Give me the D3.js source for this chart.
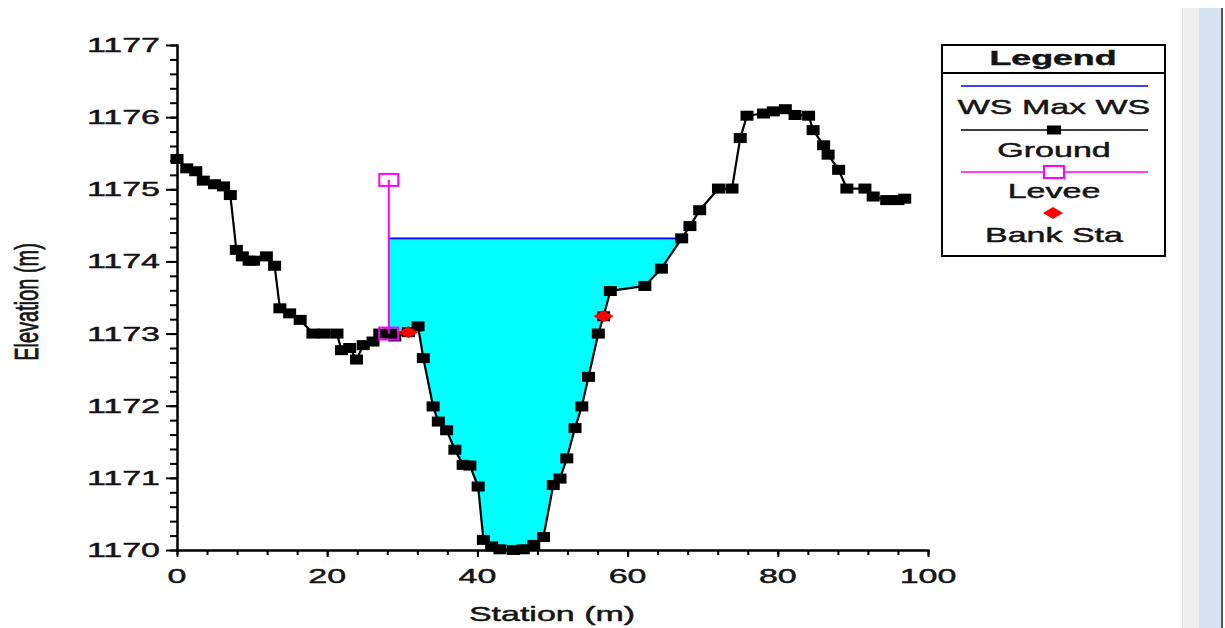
<!DOCTYPE html>
<html>
<head>
<meta charset="utf-8">
<script src="https://cdn.jsdelivr.net/npm/d3@7/dist/d3.min.js"></script>
<style>
  html, body { margin: 0; padding: 0; background: #fff; }
  svg { display: block; }
  text { font-family: "Liberation Sans", Arial, sans-serif; fill: #141414; stroke: #141414; stroke-width: 0.45px; }
</style>
</head>
<body>
<svg id="chart" width="1225" height="628"></svg>
<script>
// ---------------- data ----------------
const groundStation = [0.0, 1.3, 2.5, 3.5, 5.0, 6.2, 7.1, 7.9, 8.7, 9.6, 10.2, 11.9, 13.0, 13.7, 15.0, 16.4, 18.1, 19.6, 21.3, 21.9, 23.0, 23.9, 24.8, 26.1, 27.0, 28.4, 29.0, 30.8, 32.1, 32.8, 34.1, 34.8, 35.9, 37.0, 38.1, 39.0, 40.1, 40.8, 41.9, 43.0, 44.8, 46.1, 47.5, 48.8, 50.1, 51.0, 51.9, 53.0, 53.9, 54.8, 56.1, 56.8, 57.7, 62.3, 64.5, 67.2, 68.3, 69.6, 72.1, 73.9, 75.0, 75.9, 78.1, 79.4, 81.0, 82.3, 84.1, 84.7, 86.1, 86.7, 88.1, 89.2, 91.6, 92.7, 94.5, 96.0, 96.9];
const groundElev = [1175.42, 1175.29, 1175.25, 1175.12, 1175.07, 1175.04, 1174.92, 1174.16, 1174.07, 1174.01, 1174.01, 1174.07, 1173.94, 1173.35, 1173.28, 1173.19, 1173.00, 1173.00, 1173.00, 1172.77, 1172.80, 1172.64, 1172.84, 1172.89, 1173.00, 1173.00, 1172.96, 1173.02, 1173.10, 1172.66, 1171.99, 1171.78, 1171.66, 1171.39, 1171.18, 1171.17, 1170.88, 1170.14, 1170.05, 1170.01, 1170.00, 1170.01, 1170.07, 1170.18, 1170.90, 1170.99, 1171.27, 1171.69, 1171.99, 1172.40, 1173.00, 1173.24, 1173.59, 1173.66, 1173.90, 1174.32, 1174.49, 1174.71, 1175.01, 1175.01, 1175.71, 1176.02, 1176.05, 1176.08, 1176.11, 1176.03, 1176.02, 1175.82, 1175.61, 1175.48, 1175.27, 1175.01, 1175.01, 1174.90, 1174.85, 1174.85, 1174.87];
const wsStation = [28.2, 67.1];
const wsElev = [1174.32, 1174.32];
const leveeStation = [28.2, 28.2];
const leveeElev = [1175.13, 1173.0];
const bankStation = [30.8, 56.8];
const bankElev = [1173.02, 1173.24];
const xTicks = [0, 20, 40, 60, 80, 100];
const yTicks = [1170, 1171, 1172, 1173, 1174, 1175, 1176, 1177];
const legendLabels = ["WS Max WS", "Ground", "Levee", "Bank Sta"];
const xTitle = "Station (m)";
const yTitle = "Elevation (m)";
const legendTitle = "Legend";

// ---------------- layout ----------------
const SX = 1.7;   // horizontal stretch of the text in the reference
const svg = d3.select("#chart");
const x = d3.scaleLinear().domain([0, 100]).range([177, 928]);
const y = d3.scaleLinear().domain([1170, 1177]).range([550, 45]);

// right side window strip
svg.append("rect").attr("x", 1182).attr("y", 8).attr("width", 17).attr("height", 620).attr("fill", "#efefef");
svg.append("line").attr("x1", 1182.5).attr("x2", 1182.5).attr("y1", 8).attr("y2", 628).attr("stroke", "#e2e2e2");
svg.append("rect").attr("x", 1199).attr("y", 8).attr("width", 22).attr("height", 620).attr("fill", "#d6e3f0");
svg.append("rect").attr("x", 1221).attr("y", 8).attr("width", 2).attr("height", 620).attr("fill", "#555");

function stretchedText(g, tx, ty, str, size, anchor, weight) {
  return g.append("text")
    .attr("transform", `translate(${tx},${ty}) scale(${SX},1)`)
    .attr("text-anchor", anchor || "middle")
    .attr("font-size", size)
    .attr("font-weight", weight || "normal")
    .text(str);
}

const pts = groundStation.map((s, i) => ({ s, e: groundElev[i] }));

// water fill: between WS and ground, clipped from levee to the WS end
svg.append("clipPath").attr("id", "wsclip")
  .append("rect")
  .attr("x", x(wsStation[0])).attr("y", 0)
  .attr("width", x(wsStation[1]) - x(wsStation[0])).attr("height", 628);
const area = d3.area()
  .x(d => x(d.s))
  .y0(y(wsElev[0]))
  .y1(d => y(Math.min(d.e, wsElev[0])));
svg.append("path").datum(pts)
  .attr("clip-path", "url(#wsclip)")
  .attr("d", area)
  .attr("fill", "#00ffff");

// WS line
const wsPts = wsStation.map((s, i) => ({ s, e: wsElev[i] }));
const line = d3.line().x(d => x(d.s)).y(d => y(d.e));
svg.append("path").datum(wsPts).attr("d", line)
  .attr("fill", "none").attr("stroke", "#0000ff").attr("stroke-width", 1.6);

// ground line and markers
svg.append("path").datum(pts).attr("d", line)
  .attr("fill", "none").attr("stroke", "#000").attr("stroke-width", 2.2);
svg.append("g").selectAll("rect").data(pts).join("rect")
  .attr("x", d => x(d.s) - 6.5).attr("y", d => y(d.e) - 5)
  .attr("width", 13).attr("height", 10).attr("fill", "#000");

// levee
const levPts = leveeStation.map((s, i) => ({ s, e: leveeElev[i] }));
svg.append("path").datum(levPts).attr("d", line)
  .attr("fill", "none").attr("stroke", "#ff00ff").attr("stroke-width", 2);
svg.append("g").selectAll("rect").data(levPts).join("rect")
  .attr("x", d => x(d.s) - 9.5).attr("y", d => y(d.e) - 6)
  .attr("width", 19).attr("height", 12)
  .attr("fill", "none").attr("stroke", "#ff00ff").attr("stroke-width", 2);

// bank stations
const diamond = (cx, cy) => `M${cx - 10},${cy} L${cx},${cy - 6} L${cx + 10},${cy} L${cx},${cy + 6} Z`;
const bankPts = bankStation.map((s, i) => ({ s, e: bankElev[i] }));
svg.append("g").selectAll("path").data(bankPts).join("path")
  .attr("d", d => diamond(x(d.s), y(d.e))).attr("fill", "#ff0000");

// ---------------- axes ----------------
const yMinor = d3.range(0, 36).map(i => 1170 + i * 0.2);
const xMinor = d3.range(0, 26).map(i => i * 4);
const axisStyle = g => { g.selectAll("path,line").attr("stroke", "#000").attr("stroke-width", 2); g.selectAll("text").remove(); };

svg.append("g").attr("transform", "translate(177,0)")
  .call(d3.axisLeft(y).tickValues(yMinor).tickSize(7).tickSizeOuter(0).tickFormat(""))
  .call(axisStyle);
svg.append("g").attr("transform", "translate(177,0)")
  .call(d3.axisLeft(y).tickValues(yTicks).tickSize(11).tickSizeOuter(0).tickFormat(""))
  .call(axisStyle);
svg.append("g").attr("transform", "translate(0,550)")
  .call(d3.axisBottom(x).tickValues(xMinor).tickSize(5).tickSizeOuter(0).tickFormat(""))
  .call(axisStyle);
svg.append("g").attr("transform", "translate(0,550)")
  .call(d3.axisBottom(x).tickValues(xTicks).tickSize(7).tickSizeOuter(0).tickFormat(""))
  .call(axisStyle);
svg.selectAll(".domain").attr("stroke-linecap", "square");

const labels = svg.append("g");
yTicks.forEach(v => stretchedText(labels, 160, y(v) + 7, String(v), 20, "end"));
xTicks.forEach(v => stretchedText(labels, x(v), 583, String(v), 20, "middle"));
stretchedText(labels, 552, 621, xTitle, 20, "middle");
labels.append("text")
  .attr("transform", "translate(38,302) rotate(-90) scale(1,1.7)")
  .attr("text-anchor", "middle").attr("font-size", 20)
  .attr("stroke-width", 0.3)
  .text(yTitle);

// ---------------- legend ----------------
const lg = svg.append("g");
lg.append("rect").attr("x", 942).attr("y", 45).attr("width", 223).attr("height", 211)
  .attr("fill", "#fff").attr("stroke", "#000").attr("stroke-width", 2);
lg.append("line").attr("x1", 942).attr("x2", 1165).attr("y1", 73).attr("y2", 73)
  .attr("stroke", "#000").attr("stroke-width", 2);
stretchedText(lg, 1053, 65, legendTitle, 21, "middle", "bold");
const lx1 = 961, lx2 = 1148, lcx = 1054;
lg.append("line").attr("x1", lx1).attr("x2", lx2).attr("y1", 86).attr("y2", 86).attr("stroke", "#0000ff").attr("stroke-width", 1.6);
stretchedText(lg, lcx, 114, legendLabels[0], 20);
lg.append("line").attr("x1", lx1).attr("x2", lx2).attr("y1", 130).attr("y2", 130).attr("stroke", "#000").attr("stroke-width", 1.6);
lg.append("rect").attr("x", lcx - 7).attr("y", 125.5).attr("width", 14).attr("height", 9).attr("fill", "#000");
stretchedText(lg, lcx, 157, legendLabels[1], 20);
lg.append("line").attr("x1", lx1).attr("x2", lx2).attr("y1", 172).attr("y2", 172).attr("stroke", "#ff00ff").attr("stroke-width", 1.6);
lg.append("rect").attr("x", lcx - 10).attr("y", 166).attr("width", 20).attr("height", 12)
  .attr("fill", "#fff").attr("stroke", "#ff00ff").attr("stroke-width", 2);
stretchedText(lg, lcx, 198, legendLabels[2], 20);
lg.append("path").attr("d", diamond(lcx - 1, 213)).attr("fill", "#ff0000");
stretchedText(lg, lcx, 242, legendLabels[3], 20);
</script>
</body>
</html>
